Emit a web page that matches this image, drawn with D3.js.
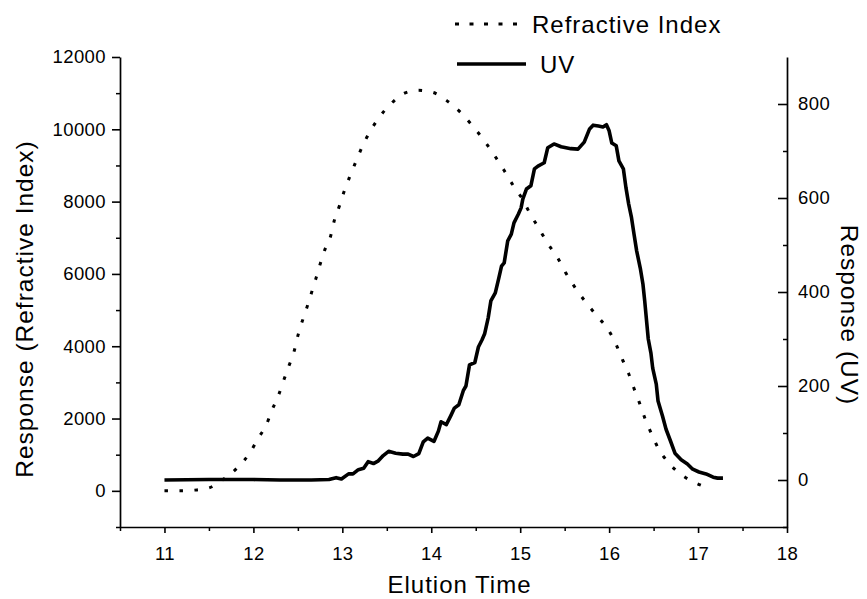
<!DOCTYPE html>
<html>
<head>
<meta charset="utf-8">
<script src="https://cdn.jsdelivr.net/npm/d3@7"></script>
<style>
  html, body { margin: 0; padding: 0; background: #fff; }
  svg { display: block; }
  text { font-family: "Liberation Sans", Arial, Helvetica, sans-serif; fill: #000; }
</style>
</head>
<body>
<svg id="chart" width="867" height="599"></svg>
<script>
// ---- Data ----
const riTime = [11.0, 11.18, 11.34, 11.5, 11.65, 11.82, 11.96, 12.05, 12.15, 12.21, 12.28, 12.34, 12.4, 12.46, 12.5, 12.6, 12.7, 12.8, 12.87, 12.91, 12.97, 13.02, 13.08, 13.15, 13.22, 13.3, 13.4, 13.54, 13.7, 13.85, 14.02, 14.17, 14.34, 14.47, 14.6, 14.71, 14.82, 14.92, 15.02, 15.11, 15.21, 15.31, 15.42, 15.51, 15.61, 15.73, 15.87, 15.99, 16.08, 16.15, 16.22, 16.28, 16.34, 16.4, 16.47, 16.55, 16.66, 16.8, 16.97, 17.12];
const riValue = [0, 0, 20, 80, 300, 640, 1050, 1440, 1850, 2240, 2630, 3050, 3460, 3880, 4290, 5060, 5850, 6650, 7060, 7480, 7900, 8280, 8670, 9090, 9500, 9890, 10280, 10690, 11000, 11080, 11020, 10800, 10440, 10080, 9670, 9280, 8860, 8450, 8090, 7670, 7260, 6840, 6450, 6040, 5650, 5240, 4820, 4460, 4040, 3630, 3240, 2830, 2440, 2020, 1610, 1190, 800, 470, 220, 80];

const uvTime = [11.0, 11.5, 12.0, 12.3, 12.65, 12.85, 12.93, 12.99, 13.07, 13.12, 13.18, 13.24, 13.29, 13.35, 13.4, 13.46, 13.52, 13.6, 13.68, 13.74, 13.8, 13.86, 13.91, 13.96, 14.03, 14.08, 14.11, 14.17, 14.22, 14.26, 14.31, 14.36, 14.39, 14.43, 14.49, 14.53, 14.57, 14.6, 14.64, 14.67, 14.72, 14.76, 14.79, 14.82, 14.86, 14.9, 14.93, 14.98, 15.01, 15.03, 15.07, 15.12, 15.16, 15.2, 15.27, 15.31, 15.38, 15.46, 15.57, 15.65, 15.72, 15.78, 15.82, 15.88, 15.93, 15.97, 16.0, 16.03, 16.08, 16.11, 16.16, 16.19, 16.22, 16.25, 16.28, 16.31, 16.35, 16.38, 16.4, 16.44, 16.47, 16.49, 16.53, 16.55, 16.6, 16.64, 16.69, 16.74, 16.81, 16.88, 16.94, 17.01, 17.09, 17.17, 17.22, 17.28];
const uvValue = [0, 1, 1, 0, 0, 1, 5, 2, 13, 13, 22, 25, 39, 35, 40, 52, 61, 57, 55, 55, 50, 56, 81, 89, 82, 104, 124, 118, 137, 153, 160, 190, 200, 245, 250, 283, 298, 311, 345, 381, 398, 430, 455, 462, 509, 523, 547, 566, 579, 598, 619, 626, 662, 668, 675, 707, 715, 709, 705, 704, 719, 747, 755, 753, 751, 756, 743, 717, 711, 679, 662, 621, 587, 560, 523, 487, 451, 417, 381, 300, 270, 238, 204, 168, 136, 108, 83, 57, 43, 34, 23, 17, 13, 6, 4, 4];

const xMajorTicks = [11, 12, 13, 14, 15, 16, 17, 18];
const xMinorTicks = [10.5, 11.5, 12.5, 13.5, 14.5, 15.5, 16.5, 17.5];
const leftMajorTicks = [0, 2000, 4000, 6000, 8000, 10000, 12000];
const leftMinorTicks = [-1000, 1000, 3000, 5000, 7000, 9000, 11000];
const rightMajorTicks = [0, 200, 400, 600, 800];
const rightMinorTicks = [-100, 100, 300, 500, 700];

const seriesNames = ["Refractive Index", "UV"];
const xTitle = "Elution Time";
const leftTitle = "Response (Refractive Index)";
const rightTitle = "Response (UV)";

// ---- Layout ----
const svg = d3.select("#chart");
const plot = { left: 120, right: 787, top: 57, bottom: 527 };

const x = d3.scaleLinear().domain([10.5, 18]).range([plot.left, plot.right]);
const yL = d3.scaleLinear().domain([-1000, 12000]).range([plot.bottom, plot.top]);
const yR = d3.scaleLinear().domain([-100, 900]).range([plot.bottom, plot.top]);

function styleAxis(g) {
  g.selectAll(".domain").attr("stroke", "#000").attr("stroke-width", 1.7);
  g.selectAll(".tick line").attr("stroke", "#000").attr("stroke-width", 1.6);
  g.selectAll(".tick text").style("font-size", "18.5px").style("letter-spacing", "0.4px").attr("fill", "#000");
}

// bottom axis
const gx = svg.append("g").attr("transform", `translate(0,${plot.bottom})`);
gx.call(d3.axisBottom(x).tickValues(xMajorTicks).tickSize(6).tickSizeOuter(0).tickPadding(14).tickFormat(d3.format("d")));
styleAxis(gx);
svg.append("g").attr("transform", `translate(0,${plot.bottom})`)
  .call(d3.axisBottom(x).tickValues(xMinorTicks).tickSize(4).tickSizeOuter(0).tickFormat(""))
  .call(g => { g.select(".domain").remove(); g.selectAll(".tick line").attr("stroke", "#000").attr("stroke-width", 1.5); });

// left axis
const gl = svg.append("g").attr("transform", `translate(${plot.left},0)`);
gl.call(d3.axisLeft(yL).tickValues(leftMajorTicks).tickSize(8).tickSizeOuter(0).tickPadding(6).tickFormat(d3.format("d")));
styleAxis(gl);
svg.append("g").attr("transform", `translate(${plot.left},0)`)
  .call(d3.axisLeft(yL).tickValues(leftMinorTicks).tickSize(4).tickSizeOuter(0).tickFormat(""))
  .call(g => { g.select(".domain").remove(); g.selectAll(".tick line").attr("stroke", "#000").attr("stroke-width", 1.5); });

// right axis (ticks pointing inward)
const gr = svg.append("g").attr("transform", `translate(${plot.right},0)`);
gr.call(d3.axisRight(yR).tickValues(rightMajorTicks).tickSize(0).tickSizeOuter(0).tickPadding(11).tickFormat(d3.format("d")));
styleAxis(gr);
gr.selectAll(".tick line").attr("x2", -9);
svg.append("g").attr("transform", `translate(${plot.right},0)`)
  .call(d3.axisRight(yR).tickValues(rightMinorTicks).tickSize(0).tickSizeOuter(0).tickFormat(""))
  .call(g => { g.select(".domain").remove(); g.selectAll(".tick line").attr("x2", -4).attr("stroke", "#000").attr("stroke-width", 1.5); });

// ---- Series ----
const riData = riTime.map((t, i) => [t, riValue[i]]);
const uvData = uvTime.map((t, i) => [t, uvValue[i]]);

svg.append("path")
  .datum(riData)
  .attr("fill", "none")
  .attr("stroke", "#000")
  .attr("stroke-width", 3)
  .attr("stroke-dasharray", "3.5,11.5")
  .attr("d", d3.line().x(d => x(d[0])).y(d => yL(d[1])).curve(d3.curveMonotoneX));

svg.append("path")
  .datum(uvData)
  .attr("fill", "none")
  .attr("stroke", "#000")
  .attr("stroke-width", 3.6)
  .attr("stroke-linejoin", "round")
  .attr("d", d3.line().x(d => x(d[0])).y(d => yR(d[1])).curve(d3.curveLinear));

// ---- Titles ----
svg.append("text")
  .attr("x", (x(10.5) + x(18)) / 2 + 6)
  .attr("y", 593)
  .attr("text-anchor", "middle")
  .style("font-size", "24px").style("letter-spacing", "1px")
  .text(xTitle);

svg.append("text")
  .attr("transform", "translate(33,309) rotate(-90)")
  .attr("text-anchor", "middle")
  .style("font-size", "24.5px").style("letter-spacing", "1px")
  .text(leftTitle);

svg.append("text")
  .attr("transform", "translate(841,315) rotate(90)")
  .attr("text-anchor", "middle")
  .style("font-size", "24.5px").style("letter-spacing", "1px")
  .text(rightTitle);

// ---- Legend ----
const legend = svg.append("g");
legend.append("line")
  .attr("x1", 455).attr("x2", 520).attr("y1", 24).attr("y2", 24)
  .attr("stroke", "#000").attr("stroke-width", 3).attr("stroke-dasharray", "4,10.5");
legend.append("text")
  .attr("x", 532).attr("y", 33)
  .style("font-size", "24px").style("letter-spacing", "1px")
  .text(seriesNames[0]);
legend.append("line")
  .attr("x1", 457).attr("x2", 526).attr("y1", 64).attr("y2", 64)
  .attr("stroke", "#000").attr("stroke-width", 3.6);
legend.append("text")
  .attr("x", 540).attr("y", 73)
  .style("font-size", "24px").style("letter-spacing", "1px")
  .text(seriesNames[1]);
</script>
</body>
</html>
